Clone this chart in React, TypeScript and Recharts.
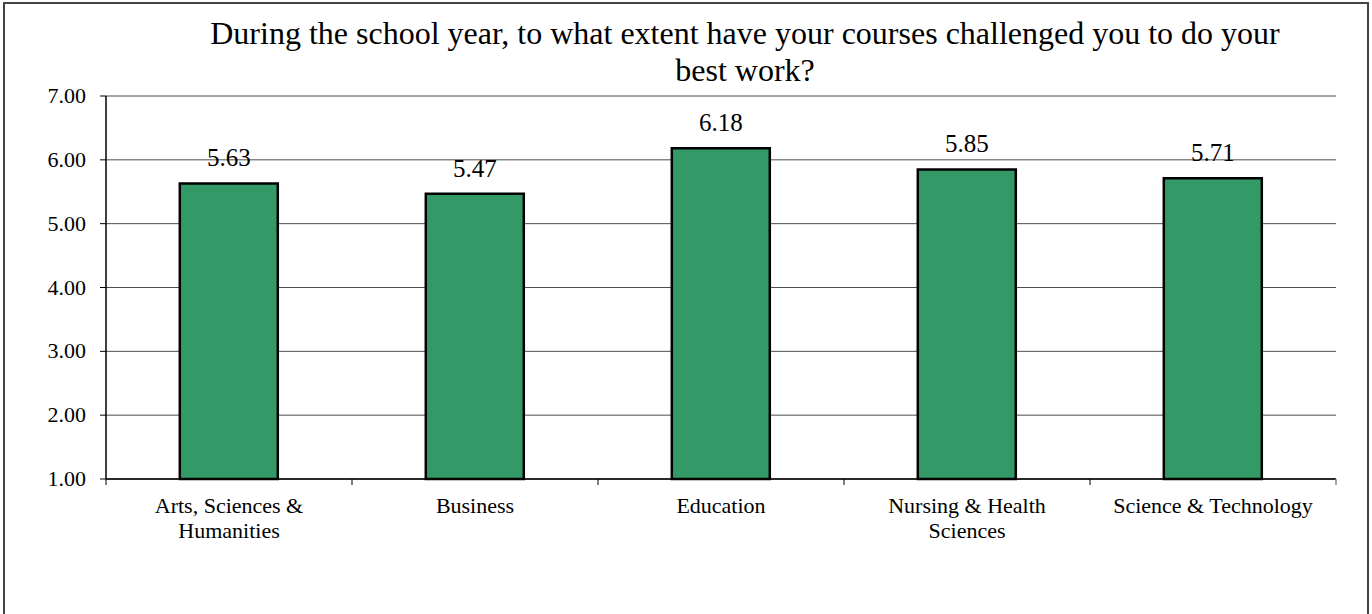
import React from "react";
import { BarChart, Bar, XAxis, YAxis, CartesianGrid, LabelList } from "recharts";

const titleLines = [
  "During the school year, to what extent have your courses challenged you to do your",
  "best work?",
];
const categories = [
  "Arts, Sciences & Humanities",
  "Business",
  "Education",
  "Nursing & Health Sciences",
  "Science & Technology",
];
const categoryLines: string[][] = [
  ["Arts, Sciences &", "Humanities"],
  ["Business"],
  ["Education"],
  ["Nursing & Health", "Sciences"],
  ["Science & Technology"],
];
const values = [5.63, 5.47, 6.18, 5.85, 5.71];
const yTicks = [1, 2, 3, 4, 5, 6, 7];

const data = categories.map((c, i) => ({ name: c, value: values[i], idx: i }));

const FONT = "'Liberation Serif', 'Times New Roman', serif";

const XTick = (props: any) => {
  const { x, y, payload, index } = props;
  const off = payload && payload.offset != null ? payload.offset : 123;
  const lines = categoryLines[index] || [String(payload.value)];
  const isLast = index === categories.length - 1;
  return (
    <g>
      <line x1={x - off} x2={x - off} y1={y - 6} y2={y} stroke="#000" strokeWidth={1} />
      {isLast && <line x1={x + off} x2={x + off} y1={y - 6} y2={y} stroke="#888" strokeWidth={1.5} />}
      <text x={x} y={y} textAnchor="middle" style={{ fontFamily: FONT, fontSize: 22 }} fill="#000">
        {lines.map((l, i) => (
          <tspan key={i} x={x} dy={i === 0 ? 28 : 25}>
            {l}
          </tspan>
        ))}
      </text>
    </g>
  );
};

const YTick = (props: any) => {
  const { x, y, payload } = props;
  return (
    <text x={x} y={y} dy={7} textAnchor="end" style={{ fontFamily: FONT, fontSize: 22 }} fill="#000">
      {Number(payload.value).toFixed(2)}
    </text>
  );
};

const BarLabel = (props: any) => {
  const { x, y, width, value } = props;
  return (
    <text x={x + width / 2} y={y - 17} textAnchor="middle" style={{ fontFamily: FONT, fontSize: 25 }} fill="#000">
      {Number(value).toFixed(2)}
    </text>
  );
};

export default function App() {
  return (
    <div
      style={{
        position: "absolute",
        left: 0,
        top: 0,
        width: 1372,
        height: 614,
        overflow: "hidden",
        background: "#fff",
        fontFamily: FONT,
      }}
    >
      <div
        style={{
          position: "absolute",
          left: 3,
          top: 2,
          width: 1362,
          height: 700,
          border: "2px solid #444",
        }}
      />
      <div
        style={{
          position: "absolute",
          left: 145,
          top: 15,
          width: 1200,
          textAlign: "center",
          fontFamily: FONT,
          fontSize: 32,
          lineHeight: "37px",
          whiteSpace: "nowrap",
          color: "#000",
        }}
      >
        {titleLines.map((t, i) => (
          <div key={i}>{t}</div>
        ))}
      </div>
      <div style={{ position: "absolute", left: 0, top: 0 }}>
        <BarChart
          width={1372}
          height={614}
          data={data}
          margin={{ top: 96, right: 36, left: 6, bottom: 75 }}
          barCategoryGap="30%"
          style={{ fontFamily: FONT }}
        >
          <CartesianGrid vertical={false} stroke="#4d4d4d" strokeWidth={1} />
          <XAxis
            xAxisId="top"
            orientation="top"
            dataKey="name"
            height={0}
            tick={false}
            tickLine={false}
            axisLine={{ stroke: "#999", strokeWidth: 2.5 }}
          />
          <YAxis
            yAxisId="right"
            orientation="right"
            width={0}
            domain={[1, 7]}
            ticks={yTicks}
            tick={false}
            tickLine={false}
            axisLine={{ stroke: "#999", strokeWidth: 2.5 }}
          />
          <XAxis
            dataKey="name"
            height={60}
            interval={0}
            tickSize={6}
            tickMargin={0}
            tickLine={false}
            axisLine={{ stroke: "#000", strokeWidth: 1.5 }}
            tick={<XTick />}
          />
          <YAxis
            width={100}
            domain={[1, 7]}
            ticks={yTicks}
            interval={0}
            tickSize={6}
            tickMargin={14}
            tick={<YTick />}
            tickLine={{ stroke: "#000" }}
            axisLine={{ stroke: "#000", strokeWidth: 1.5 }}
          />
          <Bar dataKey="value" fill="#339966" stroke="#000" strokeWidth={2.5} isAnimationActive={false}>
            <LabelList dataKey="value" content={<BarLabel />} />
          </Bar>
        </BarChart>
      </div>
    </div>
  );
}
